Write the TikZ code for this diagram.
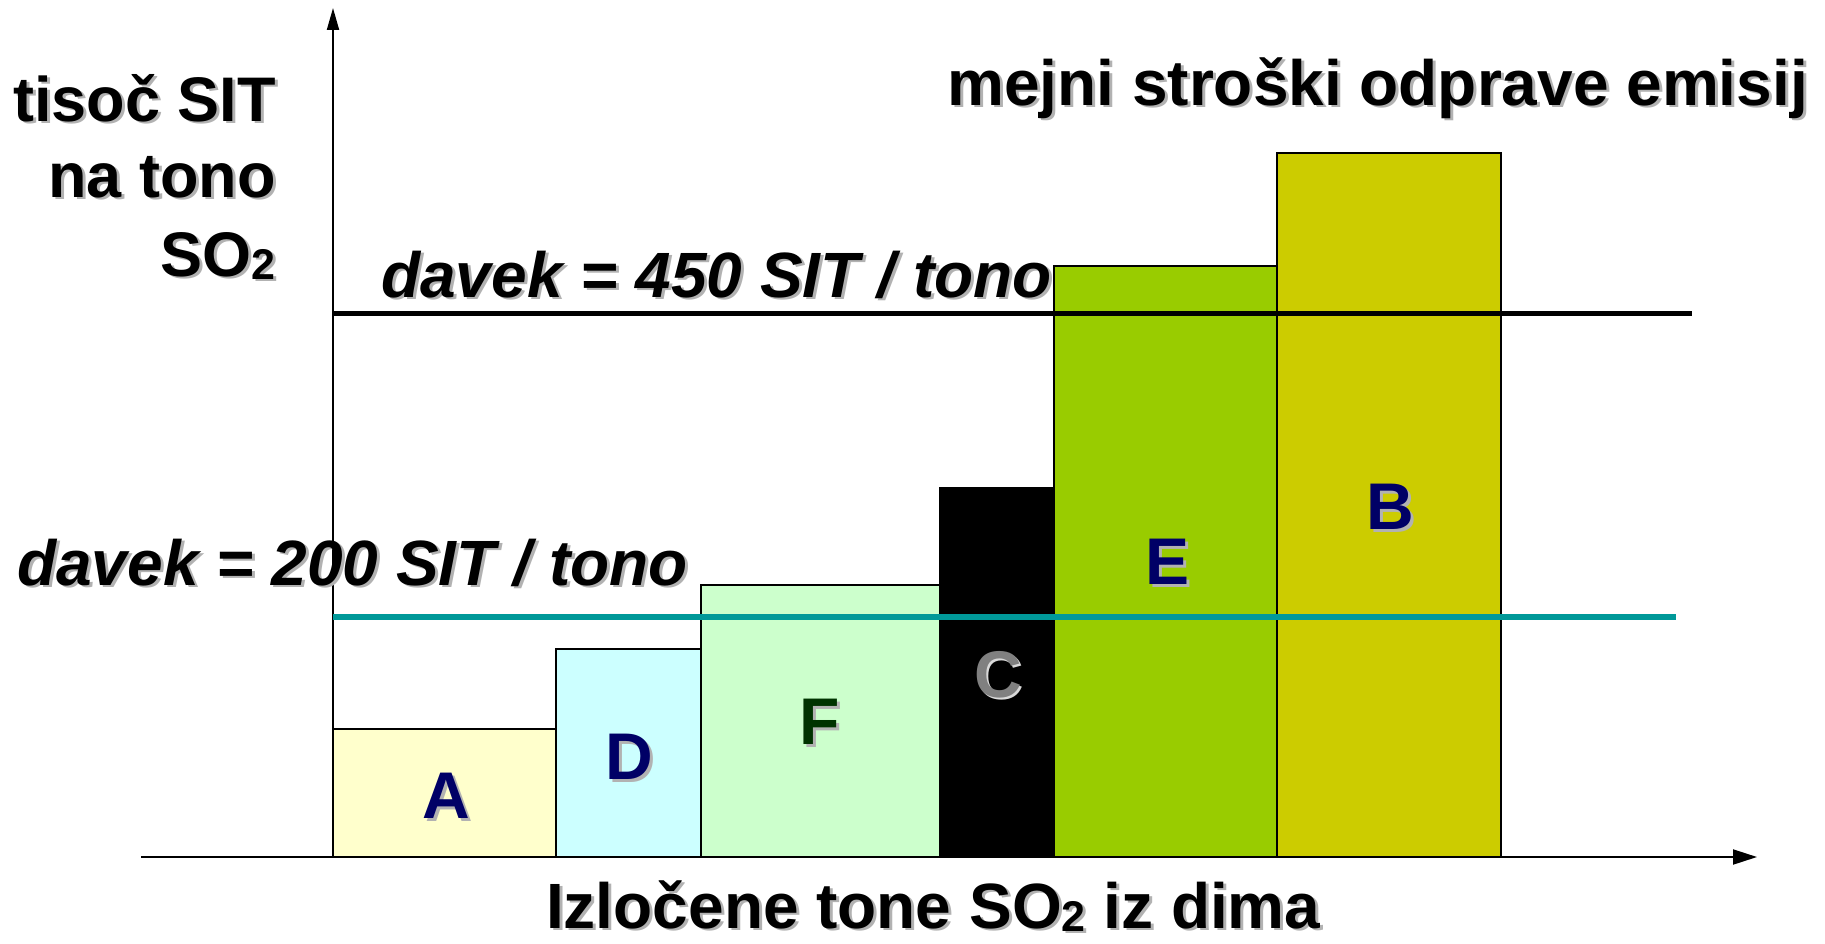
\documentclass[tikz,border=0pt]{standalone}
\usepackage{fontspec}
\setmainfont{Liberation Sans}
\usetikzlibrary{arrows.meta}
\definecolor{cA}{HTML}{FFFFCC}
\definecolor{cD}{HTML}{CCFFFF}
\definecolor{cF}{HTML}{CCFFCC}
\definecolor{cE}{HTML}{99CC00}
\definecolor{cB}{HTML}{CCCC00}
\definecolor{tealline}{HTML}{009999}
\definecolor{navyl}{HTML}{000066}
\definecolor{dgreenl}{HTML}{003300}
\definecolor{grayl}{HTML}{808080}
\newcommand\subtwo{{\fontsize{43}{43}\selectfont\raisebox{-3pt}{2}}}
\begin{document}
\begin{tikzpicture}[x=1pt,y=-1pt,
  bar/.style={draw=black, line width=1.5pt},
  axisline/.style={draw=black, line width=2pt},
  lbl/.style={font=\fontsize{64}{70}\selectfont\bfseries, inner sep=0pt, text=black},
  ylbl/.style={font=\fontsize{63}{70}\selectfont\bfseries, inner sep=0pt, text=black},
  ilbl/.style={font=\fontsize{64}{70}\selectfont\bfseries\itshape, inner sep=0pt, text=black},
  shd/.style={text=black!30},
  barlbl/.style={font=\fontsize{66}{70}\selectfont\bfseries, inner sep=0pt},
]
\useasboundingbox (0,0) rectangle (1825,944);
\fill[white] (0,0) rectangle (1825,944);

% bars
\draw[bar, fill=cA] (333,857) rectangle (556,729);
\draw[bar, fill=cD] (556,857) rectangle (701,649);
\draw[bar, fill=cF] (701,857) rectangle (940,585);
\draw[bar, fill=black] (940,857) rectangle (1054,488);
\draw[bar, fill=cE] (1054,857) rectangle (1277,266);
\draw[bar, fill=cB] (1277,857) rectangle (1501,153);

% axes
\coordinate (xl) at (141,857);
\coordinate (xr) at (1757,857);
\coordinate (yb) at (333,857);
\coordinate (yt) at (333,8);
\draw[axisline, -{Triangle[length=24pt,width=15pt]}] (xl) -- (xr);
\draw[axisline, -{Triangle[length=22pt,width=12pt]}] (yb) -- (yt);

% tax lines
\coordinate (t450a) at (333,313);
\coordinate (t450b) at (1692,313);
\coordinate (t200a) at (333,617);
\coordinate (t200b) at (1676,617);
\draw[black, line width=5pt] (t450a) -- (t450b);
\draw[tealline, line width=6pt] (t200a) -- (t200b);

% texts (shadow, then text)
\node[lbl, shd, anchor=base west] (titles) at (950,108) {mejni stroški odprave emisij};
\node[lbl, anchor=base west] (title) at (947,106) {mejni stroški odprave emisij};

\node[ylbl, shd, anchor=base east] (y1s) at (279,124) {tisoč SIT};
\node[ylbl, anchor=base east] (y1) at (276,122) {tisoč SIT};
\node[ylbl, shd, anchor=base east] (y2s) at (279,200) {na tono};
\node[ylbl, anchor=base east] (y2) at (276,198) {na tono};
\node[ylbl, shd, anchor=base east] (y3s) at (279,278) {SO\subtwo};
\node[ylbl, anchor=base east] (y3) at (276,276) {SO\subtwo};

\node[ilbl, shd, anchor=base west] (d450s) at (384,299) {davek = 450 SIT / tono};
\node[ilbl, anchor=base west] (d450) at (381,297) {davek = 450 SIT / tono};
\node[ilbl, shd, anchor=base west] (d200s) at (20,587) {davek = 200 SIT / tono};
\node[ilbl, anchor=base west] (d200) at (17,585) {davek = 200 SIT / tono};

\node[lbl, shd, anchor=base west] (xlabs) at (549,930) {Izločene tone SO\subtwo{} iz dima};
\node[lbl, anchor=base west] (xlab) at (546,928) {Izločene tone SO\subtwo{} iz dima};

% bar letters
\node[barlbl, shd] (As) at (449,799) {A};
\node[barlbl, text=navyl] (A) at (446,796) {A};
\node[barlbl, shd] (Ds) at (632,760) {D};
\node[barlbl, text=navyl] (D) at (629,757) {D};
\node[barlbl, shd] (Fs) at (823,725) {F};
\node[barlbl, text=dgreenl] (F) at (820,722) {F};
\node[barlbl, text=black!15] (Cs) at (1000,677) {C};
\node[barlbl, text=grayl] (C) at (998,675) {C};
\node[barlbl, shd] (Es) at (1170,565) {E};
\node[barlbl, text=navyl] (E) at (1167,562) {E};
\node[barlbl, shd] (Bs) at (1393,510) {B};
\node[barlbl, text=navyl] (B) at (1390,507) {B};
\end{tikzpicture}
\end{document}
